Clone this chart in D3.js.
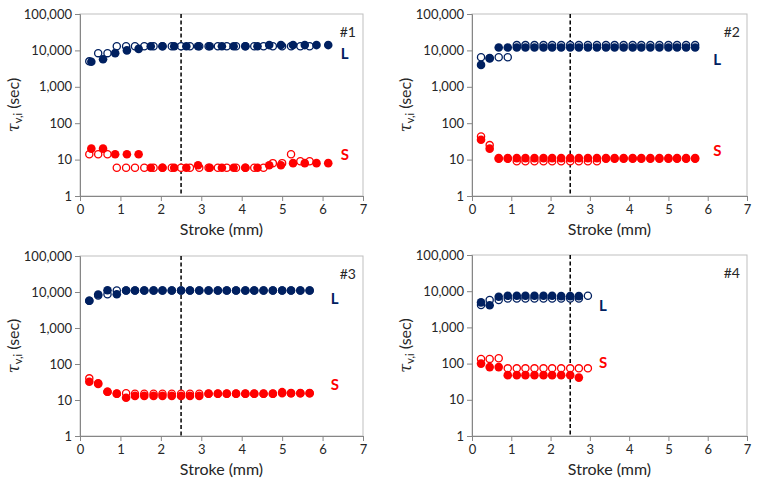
<!DOCTYPE html>
<html>
<head>
<meta charset="utf-8">
<script src="https://cdn.jsdelivr.net/npm/d3@7"></script>
<style>
  body { margin: 0; background: #fff; }
  svg text { font-family: Lato, "Open Sans", sans-serif; fill: #262626; }
</style>
</head>
<body>
<svg width="759" height="487"></svg>
<script>
// stroke positions (mm)
const x1Filled = [0.28, 0.57, 0.87, 1.16, 1.45, 1.75, 2.04, 2.33, 2.63, 2.92, 3.21, 3.51, 3.80, 4.09, 4.39, 4.68, 4.97, 5.27, 5.56, 5.85, 6.14];
const xOpen = [0.23, 0.45, 0.68, 0.91, 1.14, 1.36, 1.59, 1.82, 2.04, 2.27, 2.50, 2.72, 2.95, 3.18, 3.41, 3.63, 3.86, 4.09, 4.31, 4.54, 4.77, 5.00, 5.22, 5.45, 5.68];

// #1
const L1Filled = [4900, 5700, 8400, 10000, 11000, 13000, 13000, 13000, 13000, 13000, 13000, 13000, 13000, 13000, 13000, 14000, 14000, 14000, 14000, 14000, 14000];
const S1Filled = [20, 20, 14, 14, 14, 6, 6, 6, 6, 7, 6, 6, 6, 6, 6, 7, 7, 8, 8, 8, 8];
const L1Open = [5000, 8400, 8400, 13000, 13000, 13000, 13000, 13000, 13000, 13000, 13000, 13000, 13000, 13000, 13000, 13000, 13000, 13000, 13000, 13000, 13000, 13000, 13000, 13000, 13000];
const S1Open = [14, 14, 14, 6, 6, 6, 6, 6, 6, 6, 6, 6, 6, 6, 6, 6, 6, 6, 6, 6, 8, 8, 14, 9, 9];

// #2
const L2Filled = [4000, 6000, 12000, 12000, 12000, 12000, 12000, 12000, 12000, 12000, 12000, 12000, 12000, 12000, 12000, 12000, 12000, 12000, 12000, 12000, 12000, 12000, 12000, 12000, 12000];
const L2Open = [6500, 6200, 6500, 6500, 14000, 14000, 14000, 14000, 14000, 14000, 14000, 14000, 14000, 14000, 14000, 14000, 14000, 14000, 14000, 14000, 14000, 14000, 14000, 14000, 14000];
const S2Filled = [35, 20, 11, 11, 11, 11, 11, 11, 11, 11, 11, 11, 11, 11, 11, 11, 11, 11, 11, 11, 11, 11, 11, 11, 11];
const S2Open = [43, 25, 10.5, 10.5, 9, 9, 9, 9, 9, 9, 9, 9, 9, 9, 10.5, 10.5, 10.5, 10.5, 10.5, 10.5, 10.5, 10.5, 10.5, 10.5, 10.5];

// #3
const L3Filled = [5700, 8500, 11200, 8700, 11000, 11000, 11000, 11000, 11000, 11000, 11000, 11000, 11000, 11000, 11000, 11000, 11000, 11000, 11000, 11000, 11000, 11000, 11000, 11000, 11000];
const L3Open = [5700, 8000, 8700, 11000, 11000, 11000, 11000, 11000, 11000, 11000, 11000, 11000, 11000, 11000, 11000, 11000, 11000, 11000, 11000, 11000, 11000, 11000, 11000, 11000, 11000];
const S3Filled = [32, 28, 17, 15, 11.5, 13, 13, 13, 13, 13, 13, 13, 13, 15, 15, 15, 15, 15, 15, 15, 15, 16.5, 15.5, 15.5, 15.5];
const S3Open = [40, 29, 17, 15, 15.5, 15, 15, 15, 15, 15, 15, 15, 15, 15, 15, 15, 15, 15, 15, 15, 15, 15.5, 15.5, 15.5, 15.5];

// #4
const L4Filled = [4900, 4100, 7000, 7500, 7500, 7500, 7500, 7500, 7500, 7300, 7300, 7300];
const L4Open = [4150, 5700, 5700, 6300, 6300, 6300, 6300, 6300, 6300, 6300, 6300, 6300, 7500];
const S4Filled = [100, 80, 80, 48, 48, 48, 48, 48, 48, 48, 48, 41];
const S4Open = [135, 135, 140, 74, 74, 74, 74, 74, 74, 74, 74, 74, 74];

const yTicks = [1, 10, 100, 1000, 10000, 100000];
const xTicks = [0, 1, 2, 3, 4, 5, 6, 7];
const strokeLimit = 2.5;

const navy = "#002060", red = "#ff0000";
const svg = d3.select("svg");

const panels = [
  { name: "#1", box: [80, 363, 14, 196], xF: x1Filled, xO: xOpen, LF: L1Filled, LO: L1Open, SF: S1Filled, SO: S1Open, Lpos: [6.45, 5900], Spos: [6.45, 10] },
  { name: "#2", box: [472, 747, 14, 196], xF: xOpen, xO: xOpen, LF: L2Filled, LO: L2Open, SF: S2Filled, SO: S2Open, Lpos: [6.14, 4000], Spos: [6.14, 12.5] },
  { name: "#3", box: [80, 363, 256, 436], xF: xOpen, xO: xOpen, LF: L3Filled, LO: L3Open, SF: S3Filled, SO: S3Open, Lpos: [6.2, 4600], Spos: [6.2, 19] },
  { name: "#4", box: [472, 747, 255, 436], xF: xOpen, xO: xOpen, LF: L4Filled, LO: L4Open, SF: S4Filled, SO: S4Open, Lpos: [3.23, 2900], Spos: [3.23, 77] }
];

panels.forEach(p => drawPanel(p));

function drawPanel(p) {
  const [left, right, top, bottom] = p.box;
  const x = d3.scaleLinear().domain([0, 7]).range([left, right]);
  const y = d3.scaleLog().domain([1, 100000]).range([bottom, top]);
  const g = svg.append("g");

  // frame
  g.append("rect")
    .attr("x", left).attr("y", top)
    .attr("width", right - left).attr("height", bottom - top)
    .attr("fill", "none").attr("stroke", "#bfbfbf").attr("stroke-width", 1);

  let ax = g.append("g").attr("transform", `translate(0,${bottom})`)
    .call(d3.axisBottom(x).tickValues(xTicks).tickSize(5).tickPadding(4).tickFormat(d3.format("d")));
  let ay = g.append("g").attr("transform", `translate(${left},0)`)
    .call(d3.axisLeft(y).tickValues(yTicks).tickSize(5).tickPadding(3).tickFormat(d3.format(",")));
  [ax, ay].forEach(a => {
    a.select(".domain").attr("stroke", "#868686");
    a.selectAll(".tick line").attr("stroke", "#868686");
    a.selectAll(".tick text").attr("font-size", 13).attr("fill", "#262626");
  });

  // axis titles
  g.append("text")
    .attr("x", (left + right) / 2).attr("y", bottom + 39)
    .attr("text-anchor", "middle").attr("font-size", 16)
    .text("Stroke (mm)");
  let yl = g.append("text")
    .attr("transform", `translate(${left - 61},${(top + bottom) / 2}) rotate(-90)`)
    .attr("text-anchor", "middle").attr("font-size", 16);
  yl.append("tspan").attr("font-style", "italic").attr("font-family", "DejaVu Serif").text("τ");
  yl.append("tspan").attr("font-size", 11).attr("dy", 3).text("v,i");
  yl.append("tspan").attr("dy", -3).text(" (sec)");

  // stroke limit
  g.append("line")
    .attr("x1", x(strokeLimit)).attr("x2", x(strokeLimit))
    .attr("y1", top).attr("y2", bottom)
    .attr("stroke", "#000").attr("stroke-width", 1.5).attr("stroke-dasharray", "4,2.5");

  // open markers first, filled on top
  const series = [
    { xs: p.xO, ys: p.SO, color: red, open: true },
    { xs: p.xO, ys: p.LO, color: navy, open: true },
    { xs: p.xF, ys: p.SF, color: red, open: false },
    { xs: p.xF, ys: p.LF, color: navy, open: false }
  ];
  series.forEach(s => {
    g.append("g").selectAll("circle")
      .data(s.ys.map((v, i) => [s.xs[i], v]))
      .enter().append("circle")
      .attr("cx", d => x(d[0])).attr("cy", d => y(d[1]))
      .attr("r", s.open ? 3.6 : 4.3)
      .attr("fill", s.open ? "#fff" : s.color)
      .attr("stroke", s.color).attr("stroke-width", s.open ? 1.3 : 0);
  });

  // labels
  g.append("text").attr("x", x(p.Lpos[0])).attr("y", y(p.Lpos[1]))
    .attr("font-size", 15).attr("font-weight", "bold").style("fill", navy).text("L");
  g.append("text").attr("x", x(p.Spos[0])).attr("y", y(p.Spos[1]))
    .attr("font-size", 15).attr("font-weight", "bold").style("fill", red).text("S");
  g.append("text").attr("x", right - 7).attr("y", top + 23)
    .attr("text-anchor", "end").attr("font-size", 14).text(p.name);
}
</script>
</body>
</html>
